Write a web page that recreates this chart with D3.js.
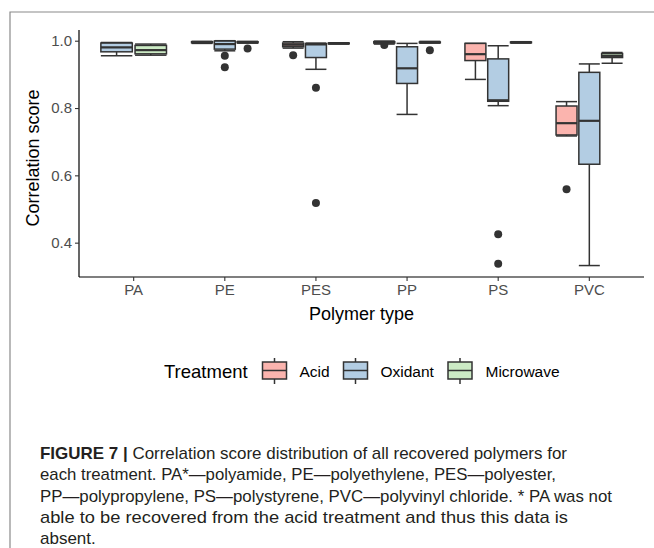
<!DOCTYPE html>
<html>
<head>
<meta charset="utf-8">
<script src="https://cdn.jsdelivr.net/npm/d3@7"></script>
<style>
  html, body { margin: 0; padding: 0; background: #fff; }
  svg { display: block; }
</style>
</head>
<body>
<svg id="chart" width="654" height="548"></svg>
<script>
// ---------- data ----------
const categories = ["PA", "PE", "PES", "PP", "PS", "PVC"];
const treatments = ["Acid", "Oxidant", "Microwave"];
const fills = ["#FBB4AE", "#B3CDE3", "#CCEBC5"];
const yTicks = [0.4, 0.6, 0.8, 1.0];

// [lower whisker, q1, median, q3, upper whisker] per polymer
const acidStats = [
  null,
  [0.992, 0.994, 0.996, 0.997, 0.998],
  [0.978, 0.982, 0.988, 0.993, 0.997],
  [0.990, 0.993, 0.995, 0.997, 0.999],
  [0.885, 0.941, 0.960, 0.992, 0.992],
  [0.717, 0.720, 0.755, 0.806, 0.819]
];
const oxidantStats = [
  [0.955, 0.967, 0.980, 0.993, 0.995],
  [0.970, 0.975, 0.990, 0.999, 1.000],
  [0.915, 0.950, 0.989, 0.991, 0.993],
  [0.781, 0.873, 0.918, 0.982, 0.992],
  [0.807, 0.820, 0.823, 0.946, 0.985],
  [0.332, 0.633, 0.762, 0.906, 0.931]
];
const microwaveStats = [
  [0.957, 0.961, 0.972, 0.986, 0.990],
  [0.993, 0.994, 0.995, 0.997, 0.998],
  [0.990, 0.991, 0.992, 0.993, 0.994],
  [0.993, 0.994, 0.995, 0.996, 0.998],
  [0.993, 0.994, 0.995, 0.996, 0.997],
  [0.933, 0.950, 0.955, 0.962, 0.965]
];
const acidOutliers = [[], [], [0.957], [0.987], [], [0.559]];
const oxidantOutliers = [[], [0.955, 0.921], [0.860, 0.518], [], [0.425, 0.337], []];
const microwaveOutliers = [[], [0.977], [], [0.972], [], []];

const captionLines = [
  "Correlation score distribution of all recovered polymers for",
  "each treatment. PA*\u2014polyamide, PE\u2014polyethylene, PES\u2014polyester,",
  "PP\u2014polypropylene, PS\u2014polystyrene, PVC\u2014polyvinyl chloride. * PA was not",
  "able to be recovered from the acid treatment and thus this data is",
  "absent."
];

// ---------- layout ----------
const svg = d3.select("#chart");
const font = "'Liberation Sans', Arial, Helvetica, sans-serif";
const panel = { left: 79, right: 644, top: 30, bottom: 277 };

svg.append("rect").attr("width", 654).attr("height", 548).attr("fill", "#fff");

// frame
svg.append("path")
  .attr("d", "M10,548 L10,12 L654,12")
  .attr("fill", "none").attr("stroke", "#8a8a8a").attr("stroke-width", 1.2);

const x = d3.scaleBand().domain(categories)
  .range([panel.left, panel.right]).paddingInner(0).paddingOuter(0.1);
const y = d3.scaleLinear().domain([0.298, 1.0318]).range([panel.bottom, panel.top]);

const statsBy = [acidStats, oxidantStats, microwaveStats];
const outBy = [acidOutliers, oxidantOutliers, microwaveOutliers];

const boxes = [];
categories.forEach((cat, ci) => {
  const present = treatments.filter((t, ti) => statsBy[ti][ci] !== null);
  const c = x(cat) + x.bandwidth() / 2;
  const half = 0.375 * x.step();
  const inner = d3.scaleBand().domain(present).range([c - half, c + half])
    .paddingInner(0.08).paddingOuter(0.04);
  present.forEach(t => {
    const ti = treatments.indexOf(t);
    const s = statsBy[ti][ci];
    boxes.push({
      cat, t, ti,
      x0: inner(t), w: inner.bandwidth(),
      lw: s[0], q1: s[1], med: s[2], q3: s[3], uw: s[4],
      out: outBy[ti][ci]
    });
  });
});

const stroke = "#333333";
const g = svg.append("g");
boxes.forEach(b => {
  const cx = b.x0 + b.w / 2;
  const bg = g.append("g");
  bg.append("line").attr("x1", cx).attr("x2", cx)
    .attr("y1", y(b.uw)).attr("y2", y(b.q3))
    .attr("stroke", stroke).attr("stroke-width", 1.5);
  bg.append("line").attr("x1", cx).attr("x2", cx)
    .attr("y1", y(b.q1)).attr("y2", y(b.lw))
    .attr("stroke", stroke).attr("stroke-width", 1.5);
  [b.uw, b.lw].forEach(v => {
    bg.append("line").attr("x1", b.x0).attr("x2", b.x0 + b.w)
      .attr("y1", y(v)).attr("y2", y(v))
      .attr("stroke", stroke).attr("stroke-width", 1.5);
  });
  bg.append("rect").attr("x", b.x0).attr("width", b.w)
    .attr("y", y(b.q3)).attr("height", Math.max(0, y(b.q1) - y(b.q3)))
    .attr("fill", fills[b.ti]).attr("stroke", stroke).attr("stroke-width", 1.5);
  bg.append("line").attr("x1", b.x0).attr("x2", b.x0 + b.w)
    .attr("y1", y(b.med)).attr("y2", y(b.med))
    .attr("stroke", stroke).attr("stroke-width", 2.2);
  b.out.forEach(v => {
    bg.append("circle").attr("cx", cx).attr("cy", y(v)).attr("r", 4)
      .attr("fill", stroke);
  });
});

// axes
const yAxis = d3.axisLeft(y).tickValues(yTicks).tickFormat(d3.format(".1f")).tickSize(4).tickPadding(3);
const yg = svg.append("g").attr("transform", `translate(${panel.left},0)`).call(yAxis);
yg.select(".domain").attr("d", `M0,${panel.top}V${panel.bottom}`).attr("stroke", "#000").attr("stroke-width", 1.2);
yg.selectAll(".tick line").attr("stroke", "#333").attr("stroke-width", 1.1);
yg.selectAll(".tick text").attr("font-family", font).attr("font-size", 15).attr("fill", "#4D4D4D");

const xAxis = d3.axisBottom(x).tickSize(4).tickPadding(3);
const xg = svg.append("g").attr("transform", `translate(0,${panel.bottom})`).call(xAxis);
xg.select(".domain").attr("d", `M${panel.left},0H${panel.right}`).attr("stroke", "#000").attr("stroke-width", 1.2);
xg.selectAll(".tick line").attr("stroke", "#333").attr("stroke-width", 1.1);
xg.selectAll(".tick text").attr("font-family", font).attr("font-size", 15).attr("fill", "#4D4D4D");

// axis titles
svg.append("text").attr("x", (panel.left + panel.right) / 2).attr("y", 320).attr("text-anchor", "middle")
  .attr("font-family", font).attr("font-size", 18).attr("fill", "#000").text("Polymer type");
svg.append("text").attr("transform", "translate(39,158) rotate(-90)").attr("text-anchor", "middle")
  .attr("font-family", font).attr("font-size", 18).attr("fill", "#000").text("Correlation score");

// legend
const lg = svg.append("g");
lg.append("text").attr("x", 164).attr("y", 378).attr("font-family", font).attr("font-size", 18.5)
  .attr("fill", "#000").text("Treatment");
const legendKeyX = [262.5, 343.5, 448];
const legendTextX = [299.5, 380.5, 485.5];
treatments.forEach((t, i) => {
  const kx = legendKeyX[i], kw = 24, ky = 362, kh = 17;
  lg.append("line").attr("x1", kx + kw / 2).attr("x2", kx + kw / 2).attr("y1", 358).attr("y2", 384)
    .attr("stroke", stroke).attr("stroke-width", 1.5);
  lg.append("rect").attr("x", kx).attr("y", ky).attr("width", kw).attr("height", kh)
    .attr("fill", fills[i]).attr("stroke", stroke).attr("stroke-width", 1.5);
  lg.append("line").attr("x1", kx).attr("x2", kx + kw).attr("y1", ky + kh / 2).attr("y2", ky + kh / 2)
    .attr("stroke", stroke).attr("stroke-width", 1.5);
  lg.append("text").attr("x", legendTextX[i]).attr("y", 376.5).attr("font-family", font)
    .attr("font-size", 15.5).attr("fill", "#000").text(t);
});

// caption
const capFont = "'Liberation Sans Narrow', 'Liberation Sans', Arial, sans-serif";
const capLens = [527, 516, 572, 528, null];
captionLines.forEach((line, i) => {
  const t = svg.append("text").attr("x", 40).attr("y", 459 + i * 21.3)
    .attr("font-family", capFont).attr("font-size", 17).attr("fill", "#231F20");
  if (capLens[i]) {
    t.attr("textLength", capLens[i]).attr("lengthAdjust", "spacingAndGlyphs");
  }
  if (i === 0) {
    t.append("tspan").attr("font-weight", "bold").text("FIGURE 7 | ");
  }
  t.append("tspan").text(line);
});
</script>
</body>
</html>
